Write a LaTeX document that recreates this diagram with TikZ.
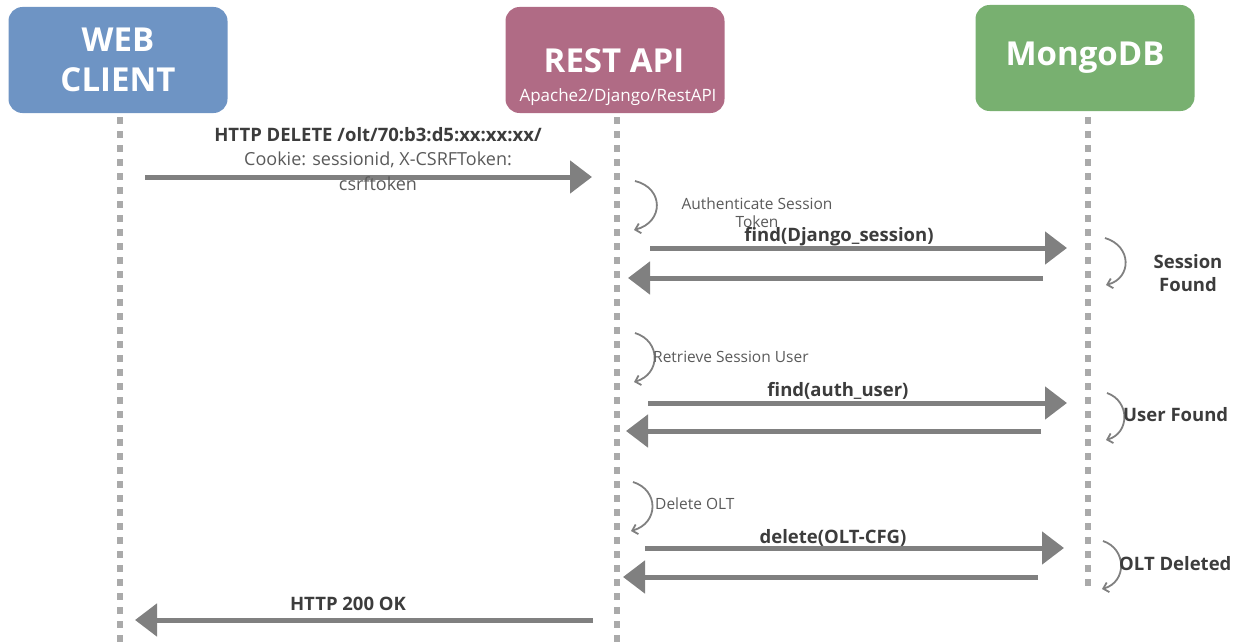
\documentclass[tikz,border=0pt]{standalone}
\usepackage{fontspec}
\setmainfont{Open Sans}
\usetikzlibrary{arrows.meta}
\definecolor{webc}{RGB}{110,148,196}
\definecolor{restc}{RGB}{176,107,133}
\definecolor{mongoc}{RGB}{120,176,112}
\definecolor{arrc}{RGB}{128,128,128}
\definecolor{lifec}{RGB}{170,170,170}
\definecolor{darktxt}{RGB}{60,60,60}
\definecolor{lighttxt}{RGB}{90,90,90}
\tikzset{
  actor/.style={rounded corners=14pt, minimum width=219pt, minimum height=106pt, text=white, inner sep=0pt, align=center, font=\bfseries\fontsize{33}{40}\selectfont},
  lifeline/.style={line width=6pt, draw=lifec, dash pattern=on 7pt off 7pt},
  msg/.style={line width=5pt, draw=arrc, -{Triangle[length=22pt,width=32pt]}, color=arrc},
  selfarr/.style={line width=1.8pt, draw=arrc, -{Straight Barb[length=5pt,width=10pt]}},
  boldlbl/.style={text=darktxt, font=\bfseries\fontsize{18.5}{23}\selectfont, inner sep=0pt, align=center},
  lightlbl/.style={text=lighttxt, font=\fontsize{15.5}{19}\selectfont, inner sep=0pt, align=center},
}
\begin{document}
\begin{tikzpicture}[x=1pt,y=-1pt]
\useasboundingbox (0,0) rectangle (1243,642);
% actors
\node[actor, fill=webc] (web) at (118,60) {WEB\\CLIENT};
\node[actor, fill=restc] (rest) at (615,60) {};
\node[text=white, font=\bfseries\fontsize{33}{40}\selectfont, inner sep=0pt] (resttitle) at (614,61) {REST API};
\node[text=white, font=\fontsize{17}{20}\selectfont, inner sep=0pt] (restsub) at (618,97) {Apache2/Django/RestAPI};
\node[actor, fill=mongoc] (mongo) at (1085,58) {MongoDB};
% lifelines
\coordinate (webtop) at (120,117);
\coordinate (resttop) at (617,117);
\coordinate (mongotop) at (1088,117);
\coordinate (webend) at (120,642);
\coordinate (restend) at (617,642);
\coordinate (mongoend) at (1088,592);
\draw[lifeline] (webtop) -- (webend);
\draw[lifeline] (resttop) -- (restend);
\draw[lifeline] (mongotop) -- (mongoend);
% message 1
\coordinate (m1s) at (145,177);
\coordinate (m1e) at (592,177);
\draw[msg] (m1s) -- (m1e);
\node[boldlbl] (m1l) at (378,135) {HTTP DELETE /olt/70:b3:d5:xx:xx:xx/};
\node[lightlbl, font=\fontsize{18}{25}\selectfont] (m1c) at (378,171) {Cookie: sessionid, X-CSRFToken:\\csrftoken};
% self arrow: authenticate
\coordinate (a1s) at (635,181);
\coordinate (a1e) at (634,230);
\draw[selfarr] (a1s) .. controls (664,188) and (664,222) .. (a1e);
\node[lightlbl, font=\fontsize{15.5}{18}\selectfont] (a1l) at (757,213) {Authenticate Session\\Token};
% find django session
\coordinate (f1s) at (650,248);
\coordinate (f1e) at (1067,248);
\draw[msg] (f1s) -- (f1e);
\node[boldlbl] (f1l) at (839,237) {find(Django\_session)};
\coordinate (r1s) at (1043,278);
\coordinate (r1e) at (628,278);
\draw[msg] (r1s) -- (r1e);
\coordinate (s1s) at (1105,238);
\coordinate (s1e) at (1106,285);
\draw[selfarr] (s1s) .. controls (1132,246) and (1132,278) .. (s1e);
\node[boldlbl] (s1l) at (1188,273) {Session\\Found};
% retrieve session user
\coordinate (a2s) at (635,333);
\coordinate (a2e) at (634,382);
\draw[selfarr] (a2s) .. controls (661,341) and (661,374) .. (a2e);
\node[lightlbl, anchor=west] (a2l) at (653,357) {Retrieve Session User};
\coordinate (f2s) at (648,403);
\coordinate (f2e) at (1067,403);
\draw[msg] (f2s) -- (f2e);
\node[boldlbl] (f2l) at (838,391) {find(auth\_user)};
\coordinate (r2s) at (1041,431);
\coordinate (r2e) at (626,431);
\draw[msg] (r2s) -- (r2e);
\coordinate (s2s) at (1107,393);
\coordinate (s2e) at (1106,440);
\draw[selfarr] (s2s) .. controls (1130,401) and (1130,433) .. (s2e);
\node[boldlbl, anchor=west] (s2l) at (1123,415) {User Found};
% delete OLT
\coordinate (a3s) at (633,482);
\coordinate (a3e) at (631,531);
\draw[selfarr] (a3s) .. controls (659,490) and (659,523) .. (a3e);
\node[lightlbl, anchor=west] (a3l) at (655,504) {Delete OLT};
\coordinate (f3s) at (645,548);
\coordinate (f3e) at (1064,548);
\draw[msg] (f3s) -- (f3e);
\node[boldlbl] (f3l) at (833,538) {delete(OLT-CFG)};
\coordinate (r3s) at (1038,577);
\coordinate (r3e) at (623,577);
\draw[msg] (r3s) -- (r3e);
\coordinate (s3s) at (1103,541);
\coordinate (s3e) at (1102,589);
\draw[selfarr] (s3s) .. controls (1127,549) and (1127,582) .. (s3e);
\node[boldlbl, anchor=west] (s3l) at (1119,564) {OLT Deleted};
% HTTP 200 OK
\coordinate (okS) at (593,620);
\coordinate (okE) at (135,620);
\draw[msg] (okS) -- (okE);
\node[boldlbl] (okl) at (348,604) {HTTP 200 OK};
\end{tikzpicture}
\end{document}
